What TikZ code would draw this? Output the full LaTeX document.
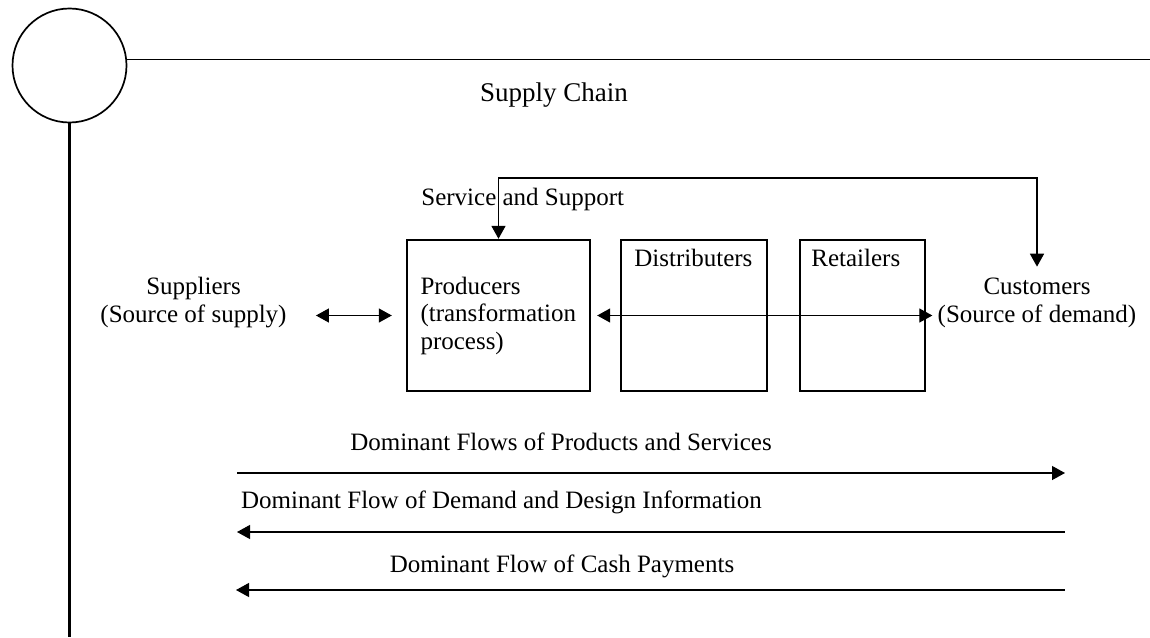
\documentclass[tikz,border=0pt]{standalone}
\usepackage{fontspec}
\setmainfont{Liberation Serif}
\usetikzlibrary{arrows.meta,positioning}
\begin{document}
\begin{tikzpicture}[x=0.5pt,y=-0.5pt,
  txt/.style={inner sep=0pt, font=\fontsize{12.5}{14}\selectfont},
  unit/.style={draw, line width=1.2pt, minimum height=75.5pt},
  flow/.style={line width=0.6pt, -{Triangle[length=6.5pt,width=7pt]}},
  wayback/.style={line width=0.6pt, {Triangle[length=6.5pt,width=7pt]}-},
  both/.style={line width=0.6pt, {Triangle[length=6.5pt,width=7pt]}-{Triangle[length=6.5pt,width=7pt]}}]
\useasboundingbox (0,0) rectangle (1150,637);

\node[draw, circle, line width=0.85pt, minimum size=57pt, inner sep=0pt] (hub) at (69.5,65.5) {};
\coordinate (rimend) at (1150,59);
\coordinate (foot) at (69.5,637);
\draw[line width=0.65pt] (hub.6) -- (hub.6 -| rimend);
\draw[line width=1.15pt] (hub.south) -- (foot);

\node[txt, font=\fontsize{13.5}{16}\selectfont, anchor=base] (title) at (554,101) {Supply Chain};

\node[unit, minimum width=91.5pt, text width=78pt, align=left, inner xsep=6.75pt, font=\fontsize{12.5}{13.75}\selectfont] (producers) at (498.5,315.5) {Producers\\(transformation\\process)};
\node[unit, minimum width=73pt] (distributers) at (694,315.5) {};
\node[unit, minimum width=62.5pt] (retailers) at (862.5,315.5) {};
\node[txt, anchor=base west] (distlabel) at (634,266) {Distributers};
\node[txt, anchor=base west] (retlabel) at (811,266) {Retailers};

\node[txt, align=center] (suppliers) at (193.5,303) {Suppliers\\(Source of supply)};
\node[txt, align=center] (customers) at (1037,303) {Customers\\(Source of demand)};
\node[txt, anchor=base west] (service) at (421,205) {Service and Support};

\draw[both, shorten <=14.5pt, shorten >=7pt] (suppliers.east |- producers.west) -- (producers.west);
\draw[both, shorten <=3pt, shorten >=2.5pt] (producers.east) -- (producers.east -| customers.west);
\coordinate (looptop) at (770,178);
\draw[both, line width=0.8pt, shorten >=5.5pt] (producers.north) |- (looptop) -| (customers.north);

\node[txt, anchor=base] (goodsflow) at (561,450) {Dominant Flows of Products and Services};
\node[txt, anchor=base] (demandflow) at (501.5,508) {Dominant Flow of Demand and Design Information};
\node[txt, anchor=base] (cashflow) at (562,572) {Dominant Flow of Cash Payments};
\coordinate (goodsw) at (237,473);
\coordinate (goodse) at (1065,473);
\coordinate (demandw) at (237,532);
\coordinate (demande) at (1065,532);
\coordinate (cashw) at (236,590);
\coordinate (cashe) at (1065,590);
\draw[flow] (goodsw) -- (goodse);
\draw[wayback] (demandw) -- (demande);
\draw[wayback] (cashw) -- (cashe);
\end{tikzpicture}
\end{document}
